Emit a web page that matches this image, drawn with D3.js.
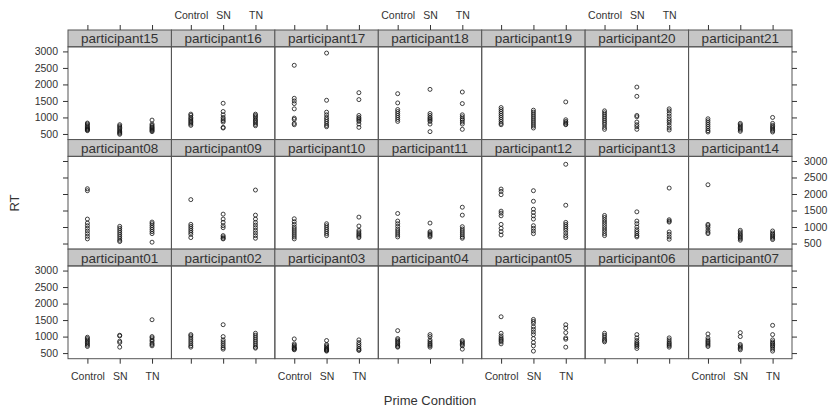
<!DOCTYPE html>
<html>
<head>
<meta charset="utf-8">
<script src="https://cdn.jsdelivr.net/npm/d3@7"></script>
<style>
  body { margin: 0; background: #fff; }
  text { font-family: "Liberation Sans", Arial, sans-serif; fill: #333; }
</style>
</head>
<body>
<div id="chart"></div>
<script>
// Data: RT values per participant, [Control, SN, TN]
var conditions = ["Control", "SN", "TN"];
var yTicks = [500, 1000, 1500, 2000, 2500, 3000];

var p01 = [[980, 940, 900, 860, 820, 780, 740, 700], [1040, 1020, 860, 820, 680], [1510, 1000, 960, 900, 860, 800, 760, 720]];
var p02 = [[1060, 1020, 960, 900, 840, 780, 720, 680], [1360, 1000, 900, 840, 780, 720, 660, 620], [1100, 1040, 980, 920, 860, 800, 740, 680, 650]];
var p03 = [[930, 780, 740, 700, 660, 640, 620, 600], [880, 760, 720, 680, 640, 620, 600, 580, 560], [900, 820, 760, 700, 640, 600, 580]];
var p04 = [[1180, 940, 900, 860, 820, 780, 740, 700, 680], [1060, 1000, 900, 850, 800, 760, 720, 680], [880, 840, 800, 760, 720, 620]];
var p05 = [[1600, 1100, 1020, 960, 920, 880, 840, 780], [1520, 1460, 1400, 1300, 1220, 1140, 1060, 940, 820, 720, 560], [1360, 1260, 1120, 960, 920, 680]];
var p06 = [[1100, 1040, 980, 920, 880, 840], [1060, 960, 880, 820, 780, 740, 700, 640], [960, 900, 840, 800, 760, 720, 680]];
var p07 = [[1080, 960, 900, 860, 820, 780, 740, 700], [1120, 1000, 760, 720, 680, 640, 600], [1340, 1060, 900, 840, 800, 760, 720, 680, 620, 560]];
var p08 = [[2160, 2100, 1240, 1120, 1040, 960, 880, 800, 720, 640], [1020, 960, 900, 840, 780, 720, 660, 600, 560], [1150, 1100, 1040, 980, 920, 860, 800, 540]];
var p09 = [[1830, 1080, 1020, 960, 900, 840, 780, 680], [1390, 1240, 1140, 1040, 980, 740, 700, 660, 640], [2120, 1360, 1240, 1140, 1060, 980, 900, 820, 740, 660]];
var p10 = [[1250, 1160, 1080, 1000, 940, 880, 820, 760, 700, 640], [1100, 1040, 980, 920, 860, 800, 740], [1300, 1030, 900, 850, 800, 760, 720, 680]];
var p11 = [[1410, 1180, 1100, 1020, 940, 880, 820, 760, 700], [1120, 860, 820, 780, 740, 700], [1600, 1360, 1010, 940, 880, 820, 760, 700, 660]];
var p12 = [[2150, 2080, 1980, 1480, 1420, 1340, 1080, 960, 860, 760], [2100, 1780, 1540, 1440, 1340, 1240, 1040, 960, 880, 800], [2900, 1660, 1140, 1080, 1020, 960, 900, 820, 740, 680]];
var p13 = [[1350, 1290, 1220, 1150, 1080, 1010, 940, 870, 800, 740], [1460, 1180, 1100, 1000, 920, 860, 800, 740, 700], [2180, 1220, 1180, 1150, 850, 780, 700, 630]];
var p14 = [[2280, 1080, 1040, 980, 900, 840, 800], [900, 850, 800, 760, 720, 680, 640, 600], [880, 820, 780, 740, 700, 660, 620]];
var p15 = [[830, 800, 760, 720, 690, 660, 640, 620, 600], [780, 740, 700, 660, 620, 580, 550, 520, 490], [920, 800, 760, 720, 690, 660, 630, 600, 570]];
var p16 = [[1100, 1060, 1000, 960, 920, 880, 840, 800, 760], [1430, 1180, 1080, 1000, 950, 900, 860, 700, 680], [1100, 1060, 1020, 970, 920, 880, 840, 790, 750]];
var p17 = [[2580, 1580, 1500, 1420, 1260, 980, 940, 820, 780], [2950, 1520, 1160, 1080, 1000, 940, 880, 820, 760, 720], [1750, 1540, 1060, 1000, 960, 920, 880, 800, 700]];
var p18 = [[1720, 1440, 1240, 1180, 1120, 1060, 1000, 940, 880], [1850, 1120, 1060, 1000, 960, 920, 880, 800, 570], [1770, 1420, 1080, 1020, 960, 920, 860, 800, 640]];
var p19 = [[1300, 1240, 1180, 1120, 1060, 1000, 940, 880, 820, 780], [1220, 1160, 1100, 1040, 980, 920, 860, 800, 740, 680], [1470, 930, 880, 840, 800, 780]];
var p20 = [[1200, 1140, 1080, 1020, 960, 900, 840, 780, 700, 640], [1920, 1640, 1060, 1020, 860, 780, 720, 640], [1260, 1200, 1120, 1040, 960, 900, 840, 760, 680, 620]];
var p21 = [[960, 900, 840, 780, 720, 660, 600, 560], [820, 780, 740, 700, 660, 620, 580], [1000, 820, 760, 720, 680, 640, 600, 560]];

var participantData = [p01, p02, p03, p04, p05, p06, p07, p08, p09, p10, p11, p12, p13, p14, p15, p16, p17, p18, p19, p20, p21];
var participantNames = participantData.map(function(d, i) {
    return "participant" + String(i + 1).padStart(2, "0");
});

// lattice layout: top row holds the last participants
var rowOrder = [[14, 15, 16, 17, 18, 19, 20], [7, 8, 9, 10, 11, 12, 13], [0, 1, 2, 3, 4, 5, 6]];

//Create Figure
var svgWidth = 832;
var svgHeight = 408;

var plotLeft = 68, plotRight = 792, plotTop = 30, plotBottom = 358.7;
var nCols = 7, nRows = 3;
var colW = (plotRight - plotLeft) / nCols;
var rowH = (plotBottom - plotTop) / nRows;
var stripH = 16.8;
var panelH = rowH - stripH;

var svg = d3.select("#chart")
    .append("svg")
    .attr("width", svgWidth)
    .attr("height", svgHeight);

var xScale = d3.scalePoint()
    .domain(conditions)
    .range([0, colW])
    .padding(0.6);

var yScale = d3.scaleLinear()
    .domain([330, 3140])
    .range([panelH, 0]);

function styleAxis(g) {
    g.select(".domain").remove();
    g.selectAll(".tick line").attr("stroke", "#333");
    g.selectAll(".tick text")
        .style("font-family", '"Liberation Sans", Arial, sans-serif')
        .style("font-size", "10.5px")
        .attr("fill", "#333");
}

rowOrder.forEach(function(row, r) {
    row.forEach(function(pi, c) {
        var px = plotLeft + c * colW;
        var py = plotTop + r * rowH;
        var panel = svg.append("g").attr("transform", `translate(${px},${py})`);

        // strip
        panel.append("rect")
            .attr("width", colW)
            .attr("height", stripH)
            .attr("fill", "#c6c6c6")
            .attr("stroke", "#555")
            .attr("stroke-width", 1);
        panel.append("text")
            .attr("x", colW / 2)
            .attr("y", stripH / 2 + 5)
            .attr("text-anchor", "middle")
            .style("font-size", "13.5px")
            .text(participantNames[pi]);

        var inner = panel.append("g").attr("transform", `translate(0,${stripH})`);

        // points
        participantData[pi].forEach(function(vals, ci) {
            inner.selectAll(null)
                .data(vals)
                .enter()
                .append("circle")
                .attr("cx", xScale(conditions[ci]))
                .attr("cy", d => yScale(d))
                .attr("r", 2)
                .attr("fill", "none")
                .attr("stroke", "#111")
                .attr("stroke-width", 0.8);
        });

        // panel border
        inner.append("rect")
            .attr("width", colW)
            .attr("height", panelH)
            .attr("fill", "none")
            .attr("stroke", "#555")
            .attr("stroke-width", 1);

        // left / right y axes on outer columns, labels alternate
        if (c === 0) {
            var leftAxis = d3.axisLeft(yScale).tickValues(yTicks).tickSize(5).tickPadding(5)
                .tickFormat(r === 1 ? "" : d3.format("d"));
            inner.append("g").call(leftAxis).call(styleAxis);
        }
        if (c === nCols - 1) {
            var rightAxis = d3.axisRight(yScale).tickValues(yTicks).tickSize(5).tickPadding(7)
                .tickFormat(r !== 1 ? "" : d3.format("d"));
            inner.append("g").attr("transform", `translate(${colW},0)`).call(rightAxis).call(styleAxis);
        }
        // top x axis on first row, bottom x axis on last row
        if (r === 0) {
            var topAxis = d3.axisTop(xScale).tickSize(5).tickPadding(6);
            if (c % 2 === 0) topAxis.tickFormat("");
            panel.append("g").call(topAxis).call(styleAxis);
        }
        if (r === nRows - 1) {
            var bottomAxis = d3.axisBottom(xScale).tickSize(5).tickPadding(9);
            if (c % 2 === 1) bottomAxis.tickFormat("");
            inner.append("g").attr("transform", `translate(0,${panelH})`).call(bottomAxis).call(styleAxis);
        }
    });
});

// axis titles
svg.append("text")
    .attr("transform", "translate(19,203) rotate(-90)")
    .attr("text-anchor", "middle")
    .style("font-size", "13px")
    .text("RT");

svg.append("text")
    .attr("x", (plotLeft + plotRight) / 2)
    .attr("y", 404.5)
    .attr("text-anchor", "middle")
    .style("font-size", "13px")
    .text("Prime Condition");
</script>
</body>
</html>
